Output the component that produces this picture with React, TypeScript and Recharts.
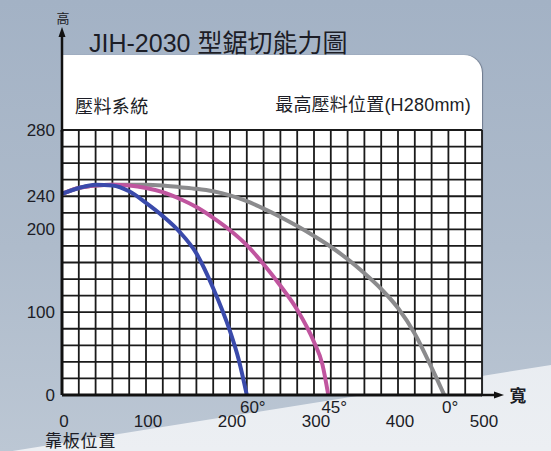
import React from "react";
import { LineChart, Line, XAxis, YAxis, CartesianGrid } from "recharts";

// ---- data (x: width mm, y: height in grid units, 20 per grid row) ----
const gridX = [0, 20, 40, 60, 80, 100, 120, 140, 160, 180, 200, 220, 240, 260, 280, 300, 320, 340, 360, 380, 400, 420, 440, 460, 480, 500];
const gridY = [0, 20, 40, 60, 80, 100, 120, 140, 160, 180, 200, 220, 240, 260, 280, 300, 320];
const xTickLabels = [0, 100, 200, 300, 400, 500];
const yTickValues = [0, 100, 200, 240, 320];
const yTickLabels = ["0", "100", "200", "240", "280"];

const series60 = [
  { w: 0, h: 243 }, { w: 20, h: 250 }, { w: 40, h: 254 }, { w: 60, h: 253 }, { w: 80, h: 246 },
  { w: 100, h: 232 }, { w: 120, h: 216 }, { w: 140, h: 197 }, { w: 160, h: 171 }, { w: 180, h: 129 },
  { w: 200, h: 77 }, { w: 210, h: 44 }, { w: 220, h: 0 },
];
const series45 = [
  { w: 0, h: 243 }, { w: 20, h: 250 }, { w: 40, h: 253 }, { w: 60, h: 254 }, { w: 80, h: 253 },
  { w: 100, h: 250 }, { w: 120, h: 245 }, { w: 140, h: 237 }, { w: 160, h: 227 }, { w: 180, h: 214 },
  { w: 200, h: 199 }, { w: 220, h: 181 }, { w: 240, h: 158 }, { w: 260, h: 132 }, { w: 280, h: 103 },
  { w: 300, h: 64 }, { w: 310, h: 37 }, { w: 317, h: 0 },
];
const series0 = [
  { w: 0, h: 243 }, { w: 20, h: 250 }, { w: 40, h: 253 }, { w: 60, h: 254 }, { w: 80, h: 254 },
  { w: 100, h: 254 }, { w: 120, h: 253 }, { w: 140, h: 251 }, { w: 160, h: 249 }, { w: 180, h: 246 },
  { w: 200, h: 241 }, { w: 220, h: 234 }, { w: 240, h: 225 }, { w: 260, h: 215 }, { w: 280, h: 204 },
  { w: 300, h: 192 }, { w: 320, h: 179 }, { w: 340, h: 164 }, { w: 360, h: 147 }, { w: 380, h: 128 },
  { w: 400, h: 105 }, { w: 420, h: 74 }, { w: 440, h: 33 }, { w: 455, h: 0 },
];
const angleLabels = ["60°", "45°", "0°"];

const FONT = '"Liberation Sans", Arial, "Noto Sans CJK TC", sans-serif';
const CJK = '"Noto Sans CJK TC", "Liberation Sans", sans-serif';
const INK = "#1c1d26";

const XTick = (props: any) => {
  const v = props.payload?.value;
  if (!xTickLabels.includes(v)) return <g />;
  return (
    <text x={props.x + 2} y={props.y + 30} textAnchor="middle" fontSize={17} fill={INK} fontFamily={FONT}>
      {v}
    </text>
  );
};

const YTick = (props: any) => {
  const v = props.payload?.value;
  const i = yTickValues.indexOf(v);
  if (i < 0) return <g />;
  return (
    <text x={props.x} y={props.y} dy={6} textAnchor="end" fontSize={17} fill={INK} fontFamily={FONT}>
      {yTickLabels[i]}
    </text>
  );
};

const makeAngleLabel = (text: string, n: number) => (props: any) => {
  if (props.index !== n - 1) return <g key={props.index} />;
  return (
    <text key={props.index} x={props.x + 6} y={props.y + 18} textAnchor="middle" fontSize={17} fill={INK} fontFamily={FONT}>
      {text}
    </text>
  );
};

export default function App() {
  return (
    <div style={{ position: "absolute", left: 0, top: 0, width: 551, height: 451, overflow: "hidden", fontFamily: FONT }}>
      {/* background */}
      <div style={{ position: "absolute", inset: 0, background: "linear-gradient(180deg, #a3b2c5 0%, #aebbcb 55%, #bcc7d4 100%)" }} />
      <div
        style={{
          position: "absolute",
          inset: 0,
          background: "linear-gradient(180deg, #dde3ea 0%, #eceff3 100%)",
          clipPath: "polygon(0px 453px, 551px 365px, 551px 451px, 0px 451px)",
        }}
      />
      {/* white panel */}
      <div
        style={{
          position: "absolute",
          left: 62,
          top: 55,
          width: 420,
          height: 340,
          background: "#ffffff",
          borderTopRightRadius: 18,
          boxShadow: "1px 0px 1px rgba(70,80,100,0.6)",
        }}
      />
      <div style={{ position: "absolute", left: 75, top: 95, fontSize: 18, color: INK, fontFamily: CJK, lineHeight: "20px", letterSpacing: 0.4 }}>壓料系統</div>
      <div style={{ position: "absolute", right: 551 - 471, top: 95, fontSize: 18, color: INK, fontFamily: FONT, lineHeight: "20px", whiteSpace: "nowrap", letterSpacing: 0.2 }}>
        最高壓料位置(H280mm)
      </div>
      <div style={{ position: "absolute", left: 89, top: 28, fontSize: 25, color: INK, fontFamily: FONT, lineHeight: "30px", whiteSpace: "nowrap" }}>
        JIH-2030 型鋸切能力圖
      </div>

      <div style={{ position: "absolute", left: 0, top: 0 }}>
        <LineChart width={551} height={451} margin={{ top: 130, right: 69, bottom: 16, left: 0 }}>
          <CartesianGrid stroke="#1a1a1a" strokeWidth={1.8} />
          <XAxis
            type="number"
            dataKey="w"
            domain={[0, 500]}
            ticks={gridX}
            interval={0}
            tick={<XTick />}
            tickLine={false}
            tickSize={0}
            height={40}
            axisLine={{ stroke: "#111", strokeWidth: 3 }}
            allowDataOverflow
          />
          <YAxis
            type="number"
            domain={[0, 320]}
            ticks={gridY}
            interval={0}
            tick={<YTick />}
            tickLine={false}
            tickSize={0}
            tickMargin={7}
            width={62}
            axisLine={{ stroke: "#111", strokeWidth: 3 }}
            allowDataOverflow
          />
          <Line data={series0} dataKey="h" type="monotone" stroke="#8b8b8d" strokeWidth={4} dot={false} isAnimationActive={false} label={makeAngleLabel(angleLabels[2], series0.length)} />
          <Line data={series45} dataKey="h" type="monotone" stroke="#c0559f" strokeWidth={4} dot={false} isAnimationActive={false} label={makeAngleLabel(angleLabels[1], series45.length)} />
          <Line data={series60} dataKey="h" type="monotone" stroke="#3a4aab" strokeWidth={4} dot={false} isAnimationActive={false} label={makeAngleLabel(angleLabels[0], series60.length)} />
        </LineChart>
      </div>

      {/* axis arrows and axis names */}
      <svg width={551} height={451} style={{ position: "absolute", left: 0, top: 0, pointerEvents: "none" }}>
        <line x1={62} y1={132} x2={62} y2={35} stroke="#111" strokeWidth={2.5} />
        <polygon points="62,27 58.5,37 65.5,37" fill="#111" />
        <line x1={481} y1={395} x2={496} y2={395} stroke="#111" strokeWidth={2.5} />
        <polygon points="504,395 494,391.5 494,398.5" fill="#111" />
        <text x={63} y={23} textAnchor="middle" fontSize={13} fill={INK} fontFamily={CJK}>高</text>
        <text x={518} y={402} textAnchor="middle" fontSize={17} fill={INK} fontFamily={CJK} fontWeight={700}>寬</text>
        <text x={45} y={447} fontSize={17} fill={INK} fontFamily={FONT} letterSpacing={0.8}>靠板位置</text>
      </svg>
    </div>
  );
}
